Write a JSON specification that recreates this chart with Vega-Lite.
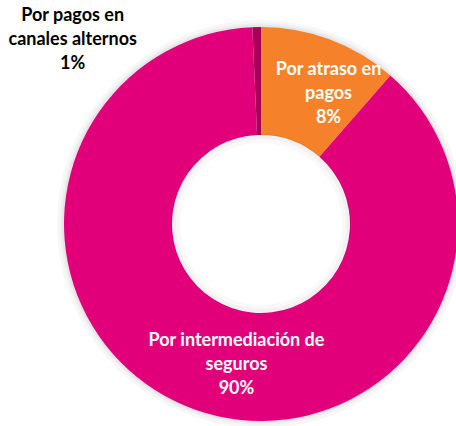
{
  "$schema": "https://vega.github.io/schema/vega-lite/v6.json",
  "width": 390,
  "height": 392,
  "autosize": {"type": "none"},
  "padding": {"left": 66, "top": 28, "right": 0, "bottom": 6},
  "background": "white",
  "config": {"view": {"stroke": null}},
  "data": {
    "values": [
      {"categoria": "Por atraso en pagos", "valor": 11.4, "orden": 1, "etiqueta": "Por atraso en\npagos\n8%"},
      {"categoria": "Por intermediación de seguros", "valor": 87.9, "orden": 2, "etiqueta": "Por intermediación de\nseguros\n90%"},
      {"categoria": "Por pagos en canales alternos", "valor": 0.7, "orden": 3, "etiqueta": "Por pagos en\ncanales alternos\n1%"}
    ]
  },
  "encoding": {
    "theta": {"field": "valor", "type": "quantitative", "stack": true},
    "order": {"field": "orden", "type": "quantitative"}
  },
  "layer": [
    {"mark": {"type": "arc", "innerRadius": 196, "outerRadius": 204, "fill": "#000", "opacity": 0.03, "stroke": null}},
    {"mark": {"type": "arc", "innerRadius": 196, "outerRadius": 201, "fill": "#000", "opacity": 0.03, "stroke": null}},
    {"mark": {"type": "arc", "innerRadius": 196, "outerRadius": 199, "fill": "#000", "opacity": 0.04, "stroke": null}},
    {
      "mark": {"type": "arc", "innerRadius": 89, "outerRadius": 197, "stroke": null},
      "encoding": {
        "color": {
          "field": "categoria",
          "type": "nominal",
          "scale": {
            "domain": ["Por atraso en pagos", "Por intermediación de seguros", "Por pagos en canales alternos"],
            "range": ["#F5822A", "#E2007A", "#A6005A"]
          },
          "legend": null
        }
      }
    },
    {"mark": {"type": "arc", "innerRadius": 81, "outerRadius": 90, "fill": "#000", "opacity": 0.025, "stroke": null}},
    {"mark": {"type": "arc", "innerRadius": 85, "outerRadius": 90, "fill": "#000", "opacity": 0.03, "stroke": null}},
    {
      "mark": {"type": "text", "radius": 147, "dx": 16, "dy": -16, "fill": "white", "font": "Lato", "fontWeight": "bold", "fontSize": 18, "lineHeight": 24, "lineBreak": "\n", "align": "center", "baseline": "middle"},
      "encoding": {
        "text": {"condition": {"test": "datum.orden == 1", "field": "etiqueta"}, "value": ""}
      }
    },
    {
      "mark": {"type": "text", "radius": 141, "dx": 22, "dy": -16, "fill": "white", "font": "Lato", "fontWeight": "bold", "fontSize": 18, "lineHeight": 24, "lineBreak": "\n", "align": "center", "baseline": "middle"},
      "encoding": {
        "text": {"condition": {"test": "datum.orden == 2", "field": "etiqueta"}, "value": ""}
      }
    },
    {
      "mark": {"type": "text", "radius": 197, "dx": -184, "dy": -11, "fill": "black", "font": "Lato", "fontWeight": "bold", "fontSize": 18, "lineHeight": 24, "lineBreak": "\n", "align": "center", "baseline": "middle"},
      "encoding": {
        "text": {"condition": {"test": "datum.orden == 3", "field": "etiqueta"}, "value": ""}
      }
    }
  ]
}
